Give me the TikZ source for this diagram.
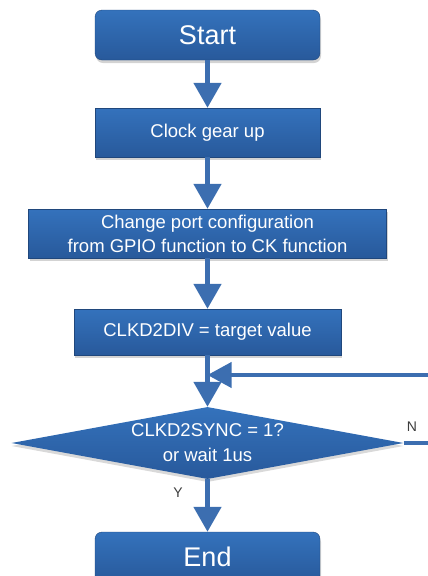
\documentclass[tikz,border=0pt]{standalone}
\usepackage{fontspec}
\setmainfont{Liberation Sans}
\usetikzlibrary{arrows.meta,shapes.geometric,shadows}
\definecolor{boxtop}{RGB}{52,114,188}
\definecolor{boxbot}{RGB}{40,89,155}
\definecolor{flow}{RGB}{60,110,176}
\definecolor{lbl}{RGB}{60,60,60}
\tikzset{
  stepbox/.style={rectangle, top color=boxtop, bottom color=boxbot, draw=boxbot!80!black, line width=0.4pt,
    text=white, align=center, inner sep=0pt, font=\fontsize{18.5}{24}\selectfont,
    drop shadow={opacity=0.35, shadow xshift=1pt, shadow yshift=-3pt}},
  termbox/.style={stepbox, rounded corners=7pt, font=\fontsize{27}{30}\selectfont},
  decision/.style={diamond, aspect=5.4, top color=boxtop, bottom color=boxbot, draw=none, inner sep=0pt,
    text=white, align=center, font=\fontsize{18.5}{25}\selectfont,
    drop shadow={opacity=0.3, shadow xshift=0pt, shadow yshift=-3pt}},
  flowline/.style={draw=flow, line width=5pt},
  flowarrow/.style={flowline, -{Triangle[width=27pt,length=25pt]}},
  branch/.style={text=lbl, font=\fontsize{14}{16}\selectfont},
}
\begin{document}
\begin{tikzpicture}[x=1pt,y=-1pt]
\useasboundingbox (0,0) rectangle (428,576);
\node[termbox, minimum width=225pt, minimum height=50pt] (start) at (207.5,35) {Start};
\node[stepbox, minimum width=225pt, minimum height=49pt] (gear) at (207.5,132.5) {Clock gear up};
\node[stepbox, minimum width=358pt, minimum height=49pt] (port) at (207.5,233.5) {Change port configuration\\from GPIO function to CK function};
\node[stepbox, minimum width=267pt, minimum height=46pt] (div) at (207.5,332) {CLKD2DIV = target value};
\node[decision, minimum width=392pt, minimum height=72pt] (sync) at (207.5,443) {CLKD2SYNC = 1?\\or wait 1us};
\node[termbox, minimum width=225pt, minimum height=50pt] (end) at (207.5,557) {End};
\coordinate (merge) at (207.5,375);
\coordinate (loopout) at (440,443);
\coordinate (loopin) at (440,375);

\draw[flowarrow] (start.south) -- (gear.north);
\draw[flowarrow] (gear.south) -- (port.north);
\draw[flowarrow] (port.south) -- (div.north);
\draw[flowarrow] (div.south) -- (sync.north);
\draw[flowarrow] (sync.south) -- (end.north);
\draw[flowline, line width=4pt] (sync.east) -- (loopout) -- (loopin);
\draw[flowline, line width=4pt, -{Triangle[width=25pt,length=24pt]}] (loopin) -- (merge);
\node[branch] (nlab) at (412,427) {N};
\node[branch] (ylab) at (178,493) {Y};
\end{tikzpicture}
\end{document}
